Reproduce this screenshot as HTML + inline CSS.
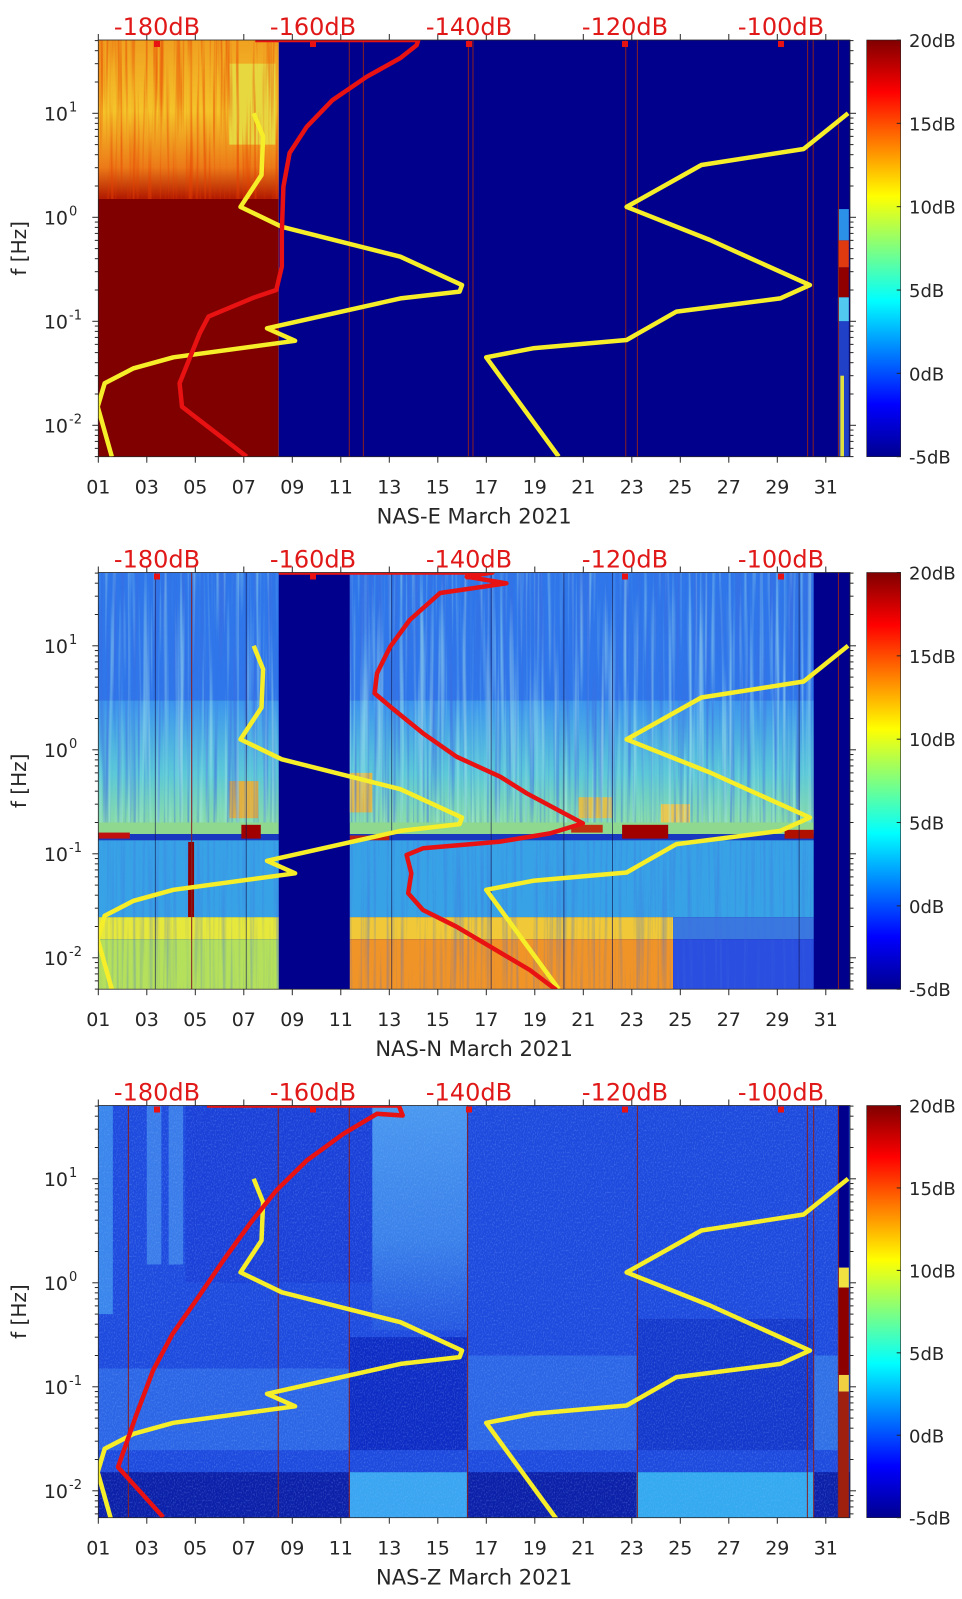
<!DOCTYPE html>
<html><head><meta charset="utf-8"><style>
html,body{margin:0;padding:0;background:#fff;}
svg{display:block;font-family:"DejaVu Sans","Liberation Sans",sans-serif;}
</style></head><body>
<svg id="chart" width="962" height="1599" viewBox="0 0 962 1599" xmlns="http://www.w3.org/2000/svg">
<defs>
<linearGradient id="jet" x1="0" y1="0" x2="0" y2="1">
<stop offset="0" stop-color="#800000"/><stop offset="0.125" stop-color="#ff0000"/><stop offset="0.375" stop-color="#ffff00"/><stop offset="0.625" stop-color="#00ffff"/><stop offset="0.875" stop-color="#0000ff"/><stop offset="1" stop-color="#00008f"/>
</linearGradient>
<linearGradient id="gE" x1="0" y1="0" x2="0" y2="1">
<stop offset="0" stop-color="#f0a020"/><stop offset="0.45" stop-color="#f4c42a"/><stop offset="0.8" stop-color="#ec7a18"/><stop offset="1" stop-color="#b01800"/>
</linearGradient>
<linearGradient id="gN" x1="0" y1="0" x2="0" y2="1">
<stop offset="0" stop-color="#3c94ee"/><stop offset="0.6" stop-color="#5cc8d8"/><stop offset="1" stop-color="#88dca8"/>
</linearGradient>
<linearGradient id="gZ" x1="0" y1="0" x2="0" y2="1">
<stop offset="0" stop-color="#4a98f0"/><stop offset="0.6" stop-color="#3a80ea"/><stop offset="1" stop-color="#2456e0"/>
</linearGradient>
<filter id="streakBlue" x="0" y="0" width="100%" height="100%">
<feTurbulence type="fractalNoise" baseFrequency="0.3 0.006" numOctaves="2" seed="5"/>
<feColorMatrix type="matrix" values="0 0 0 0 0.05  0 0 0 0 0.15  0 0 0 0 0.75  3 0 0 0 -1.4"/>
</filter>
<filter id="streakCyan" x="0" y="0" width="100%" height="100%">
<feTurbulence type="fractalNoise" baseFrequency="0.25 0.005" numOctaves="2" seed="11"/>
<feColorMatrix type="matrix" values="0 0 0 0 0.45  0 0 0 0 0.88  0 0 0 0 0.85  3 0 0 0 -1.45"/>
</filter>
<filter id="streakRed" x="0" y="0" width="100%" height="100%">
<feTurbulence type="fractalNoise" baseFrequency="0.3 0.008" numOctaves="2" seed="9"/>
<feColorMatrix type="matrix" values="0 0 0 0 0.8  0 0 0 0 0.05  0 0 0 0 0  3 0 0 0 -1.4"/>
</filter>
<filter id="grain" x="0" y="0" width="100%" height="100%">
<feTurbulence type="fractalNoise" baseFrequency="0.9 0.5" numOctaves="1" seed="2"/>
<feColorMatrix type="matrix" values="0 0 0 0 0.3  0 0 0 0 0.55  0 0 0 0 1  2 0 0 0 -0.9"/>
</filter>
</defs>
</svg>
<script>
// ---- data ----
const dayTicks = [1,3,5,7,9,11,13,15,17,19,21,23,25,27,29,31];
const dayTickLabels = ["01","03","05","07","09","11","13","15","17","19","21","23","25","27","29","31"];
const freqDecades = [-2,-1,0,1];
const dbTicks = [-180,-160,-140,-120,-100];
const cbTicks = [-5,0,5,10,15,20];
const markerDb = [-180,-160,-140,-120,-100];

const nlnmFreq = [10,5.96,2.55,1.26,0.81,0.418,0.223,0.193,0.166,0.0857,0.065,0.0451,0.0353,0.0254,0.0151,0.005];
const nlnmDb   = [-167.6,-166.4,-166.6,-169.3,-164.0,-148.8,-140.9,-141.2,-148.8,-165.9,-162.3,-177.9,-183.0,-186.7,-187.6,-185.8];
const nhnmFreq = [10,4.54,3.18,1.26,0.605,0.223,0.166,0.124,0.0661,0.055,0.0451,0.005];
const nhnmDb   = [-91.4,-97.1,-110.2,-119.8,-109.1,-96.3,-100.1,-113.4,-119.8,-131.8,-137.8,-128.5];

const redEFreq = [50.7,50.7,45.3,34.0,22.5,13.4,7.43,4.15,1.97,0.706,0.335,0.200,0.168,0.111,0.0773,0.0254,0.0151,0.005];
const redEDb   = [-167.4,-146.5,-146.7,-148.8,-153.1,-157.5,-160.8,-163.0,-163.8,-164.0,-164.0,-164.7,-167.7,-173.4,-174.5,-177.1,-176.8,-168.5];
const redNFreq = [50.7,50.7,46.2,39.9,32.2,17.7,9.8,5.44,3.49,2.6,1.44,0.859,0.551,0.382,0.196,0.157,0.131,0.113,0.0973,0.0649,0.0417,0.0288,0.0199,0.00763,0.0049];
const redNDb   = [-164.4,-137.0,-140.3,-135.2,-143.7,-147.6,-150.1,-151.8,-152.1,-150.1,-145.9,-141.6,-136.0,-132.6,-125.4,-129.6,-136.0,-145.9,-148.0,-147.4,-147.8,-145.9,-141.6,-132.2,-128.8];
const redZFreq = [50.7,50.7,40.6,42.2,27.1,15.0,7.72,3.69,1.64,0.676,0.323,0.144,0.055,0.0169,0.00557];
const redZDb   = [-173.6,-149.0,-148.5,-151.8,-156.1,-160.8,-164.7,-168.1,-171.5,-175.0,-178.0,-180.5,-182.6,-185.0,-179.2];

// spectrogram blocks: [dayStart, dayEnd, fHigh(Hz), fLow(Hz), colour]
const blocksE = [
 [1,8.44,50.7,1.5,'url(#gE)'],[6.4,8.3,30,5,'#e8d840'],[1,8.44,1.5,0.005,'#800000'],
 [8.44,32,50.7,0.005,'#00008c'],
 [31.5,31.95,1.2,0.6,'#2a90e8'],[31.5,31.95,0.6,0.33,'#e03a10'],[31.5,31.95,0.33,0.17,'#900000'],
 [31.5,31.95,0.17,0.1,'#50c8f0'],[31.5,31.95,0.1,0.005,'#2040c8'],[31.6,31.75,0.03,0.005,'#e0e040']
];
const blocksN = [
 [1,32,50.7,0.005,'#00008c'],
 [1,8.44,50.7,3,'#2e76ea'],[11.37,30.5,50.7,3,'#2e76ea'],
 [1,8.44,3,0.2,'url(#gN)'],[11.37,30.5,3,0.2,'url(#gN)'],
 [6.4,7.6,0.5,0.22,'#e0b040'],[11.37,12.3,0.6,0.25,'#e0b848'],[20.8,22.2,0.35,0.22,'#e0c048'],[24.2,25.4,0.3,0.2,'#e8c850'],
 [1,8.44,0.2,0.155,'#8ed890'],[11.37,30.5,0.2,0.155,'#8ed890'],
 [1,8.44,0.155,0.135,'#1838c0'],[11.37,30.5,0.155,0.135,'#1838c0'],
 [1,8.44,0.135,0.0246,'#38a2e6'],[11.37,30.5,0.135,0.0246,'#38a2e6'],
 [1,2.3,0.16,0.14,'#c01010'],[11.37,13,0.15,0.135,'#c02010'],[6.9,7.7,0.19,0.14,'#a00000'],
 [22.6,24.5,0.19,0.14,'#a00000'],[29.3,30.5,0.17,0.14,'#b01000'],[20.5,21.8,0.19,0.16,'#c03010'],
 [4.7,4.95,0.13,0.015,'#900000'],
 [1,8.44,0.0246,0.0151,'#e6e83c'],[11.37,24.7,0.0246,0.0151,'#f0c838'],[24.7,30.5,0.0246,0.0151,'#3a78e0'],
 [1,8.44,0.0151,0.005,'#b4e05c'],[11.37,24.7,0.0151,0.005,'#f09428'],[24.7,30.5,0.0151,0.005,'#2a4ee0']
];
const blocksZ = [
 [1,32,50.7,0.005,'#1e4ade'],
 [1,1.6,50.7,0.5,'#3a86ec'],[3.0,3.6,50.7,1.5,'#3a7cea'],[3.9,4.5,50.7,1.5,'#3a7cea'],
 [4.6,12.3,50.7,1.0,'#1a40d8'],[12.3,16.2,50.7,0.35,'url(#gZ)'],
 [1,11.37,0.15,0.0246,'#2c66e6'],[16.2,23.2,0.2,0.0246,'#2c66e6'],[30.5,31.5,0.2,0.0246,'#3070e6'],
 [11.37,16.2,0.3,0.0246,'#0e2cc4'],[23.2,30.5,0.45,0.0246,'#1438cc'],
 [1,32,0.0151,0.005,'#0b1fa8'],[11.37,16.2,0.0151,0.005,'#3aa6f2'],[23.2,30.5,0.0151,0.005,'#34aaf0'],
 [31.5,31.95,50.7,1.4,'#00008c'],[31.5,31.95,1.4,0.9,'#f0e040'],[31.5,31.95,0.9,0.13,'#8c0000'],
 [31.5,31.95,0.13,0.09,'#f0d040'],[31.5,31.95,0.09,0.005,'#a02010']
];
const linesE = [11.35,11.93,16.26,16.45,22.75,23.23,30.25,30.48,31.52];
const linesN = [4.85,31.52];
const darkN = [3.35,7.1,13.1,17.2,20.2,22.2,29.9];
const linesZ = [2.24,8.42,11.35,16.23,23.23,30.24,30.5,31.52];

// ---- layout ----
const svg = document.getElementById('chart');
const NS = 'http://www.w3.org/2000/svg';
const X0 = 98.3, PXDAY = 24.25, XR = 850;
function xD(d){ return X0 + (d-1)*PXDAY; }
function xDb(db){ return 157 + (db+180)*7.8; }
function mk(tag, attrs, parent){
  const e = document.createElementNS(NS, tag);
  for (const k in attrs) e.setAttribute(k, attrs[k]);
  (parent||svg).appendChild(e);
  return e;
}
const panels = [
  {top:40, bottom:456.7, label:'NAS-E March 2021', key:'e', blocks:blocksE, lines:linesE, dark:[], redF:redEFreq, redD:redEDb,
   tex:[['streakRed',1,8.44,50.7,1.5,0.6]]},
  {top:572.5, bottom:989.2, label:'NAS-N March 2021', key:'n', blocks:blocksN, lines:linesN, dark:darkN, redF:redNFreq, redD:redNDb,
   tex:[['streakBlue',1,8.44,50.7,0.2,0.6],['streakBlue',11.37,30.5,50.7,0.2,0.6],['streakCyan',1,8.44,50.7,0.2,0.5],['streakCyan',11.37,30.5,50.7,0.2,0.5],
        ['streakBlue',1,8.44,0.135,0.005,0.3],['streakBlue',11.37,30.5,0.135,0.005,0.35]]},
  {top:1105.5, bottom:1517.7, label:'NAS-Z March 2021', key:'z', blocks:blocksZ, lines:linesZ, dark:[], redF:redZFreq, redD:redZDb,
   tex:[['grain',1,31.5,50.7,0.005,0.35]]}
];

panels.forEach((p, i) => {
  const yF = f => p.top + 177.3 - Math.log10(f)*104;
  const g = mk('g', {});
  
  
  const cp = mk('clipPath', {id:'clip'+i}, g);
  mk('rect', {x:X0, y:p.top, width:XR-X0, height:p.bottom-p.top}, cp);
  const plot = mk('g', {'clip-path':'url(#clip'+i+')'}, g);
  
  
  p.blocks.forEach(b => {
    const y1 = yF(b[2]), y2 = yF(b[3]);
    const r = mk('rect', {x:xD(b[0]), y:y1, width:xD(b[1])-xD(b[0]), height:y2-y1, fill:b[4]}, plot);
    
    
  });
  p.tex.forEach(t => {
    const y1 = yF(t[3]), y2 = yF(t[4]);
    const r = mk('rect', {x:xD(t[1]), y:y1, width:xD(t[2])-xD(t[1]), height:y2-y1, filter:'url(#'+t[0]+')', opacity:t[5]}, plot);
    
    
  });
  p.dark.forEach(d => {
    const l = mk('line', {x1:xD(d), x2:xD(d), y1:p.top, y2:p.bottom, stroke:'#141450', 'stroke-width':0.8, opacity:0.8}, plot);
    
    
  });
  p.lines.forEach(d => {
    const l = mk('line', {x1:xD(d), x2:xD(d), y1:p.top, y2:p.bottom, stroke:'#8a2020', 'stroke-width':1}, plot);
    
    
  });
  const curve = (fs, ds, color, name) => {
    const pts = fs.map((f,k) => xDb(ds[k]).toFixed(1)+','+yF(f).toFixed(1)).join(' ');
    const pl = mk('polyline', {points:pts, fill:'none', stroke:color, 'stroke-width':4.5, 'stroke-linejoin':'round'}, plot);
    
    
  };
  curve(nlnmFreq, nlnmDb, '#f6ee28', 'nlnm-curve');
  curve(nhnmFreq, nhnmDb, '#f6ee28', 'nhnm-curve');
  curve(p.redF, p.redD, '#e81212', 'station-psd-curve');
  markerDb.forEach(db => {
    const m = mk('rect', {x:xDb(db)-3, y:p.top+1, width:6, height:6, fill:'#e81212'}, plot);
    
    
  });
  const fr = mk('rect', {x:X0, y:p.top, width:XR-X0, height:p.bottom-p.top, fill:'none', stroke:'#262626', 'stroke-width':0.8}, g);
  
  
  dayTicks.forEach((d,k) => {
    const x = xD(d);
    mk('line', {x1:x, x2:x, y1:p.bottom, y2:p.bottom+6, stroke:'#262626', 'stroke-width':1}, g);
    mk('line', {x1:x, x2:x, y1:p.top, y2:p.top-6, stroke:'#262626', 'stroke-width':1}, g);
    const t = mk('text', {x:x, y:p.bottom+37, 'text-anchor':'middle', 'font-size':19, fill:'#262626'}, g);
    t.textContent = dayTickLabels[k];
    
    
  });
  dbTicks.forEach(db => {
    const t = mk('text', {x:xDb(db), y:p.top-5, 'text-anchor':'middle', 'font-size':24, fill:'#e01818'}, g);
    t.textContent = db + 'dB';
    
    
  });
  for (let e = -3; e <= 1; e++) {
    for (let m = 1; m <= 9; m++) {
      const f = m*Math.pow(10,e);
      const y = yF(f);
      if (y < p.top-0.5 || y > p.bottom+0.5) continue;
      const len = m===1 ? 6 : 3.5;
      mk('line', {x1:X0-len, x2:X0, y1:y, y2:y, stroke:'#262626', 'stroke-width':1}, g);
      mk('line', {x1:XR, x2:XR+len, y1:y, y2:y, stroke:'#262626', 'stroke-width':1}, g);
    }
  }
  freqDecades.forEach(e => {
    const y = yF(Math.pow(10,e));
    const t = mk('text', {x:68, y:y+7, 'text-anchor':'end', 'font-size':19, fill:'#262626'}, g);
    t.textContent = '10';
    
    
    const s = mk('text', {x:69, y:y-2, 'text-anchor':'start', 'font-size':13, fill:'#262626'}, g);
    s.textContent = String(e);
    
    
  });
  const yl = mk('text', {x:0, y:0, 'text-anchor':'middle', 'font-size':20, fill:'#262626', transform:'translate(26,'+((p.top+p.bottom)/2)+') rotate(-90)'}, g);
  yl.textContent = 'f [Hz]';
  
  
  const xl = mk('text', {x:(X0+XR)/2, y:p.bottom+67, 'text-anchor':'middle', 'font-size':21, fill:'#262626'}, g);
  xl.textContent = p.label;
  
  
  const cb = mk('rect', {x:866.7, y:p.top, width:34, height:p.bottom-p.top, fill:'url(#jet)', stroke:'#262626', 'stroke-width':0.6}, g);
  
  
  cbTicks.forEach(v => {
    const y = p.bottom - (v+5)/25*(p.bottom-p.top);
    mk('line', {x1:896.7, x2:900.7, y1:y, y2:y, stroke:'#262626', 'stroke-width':1}, g);
    const t = mk('text', {x:909, y:y+7, 'font-size':18, fill:'#262626'}, g);
    t.textContent = v + 'dB';
    
    
  });
});
</script>
</body></html>
